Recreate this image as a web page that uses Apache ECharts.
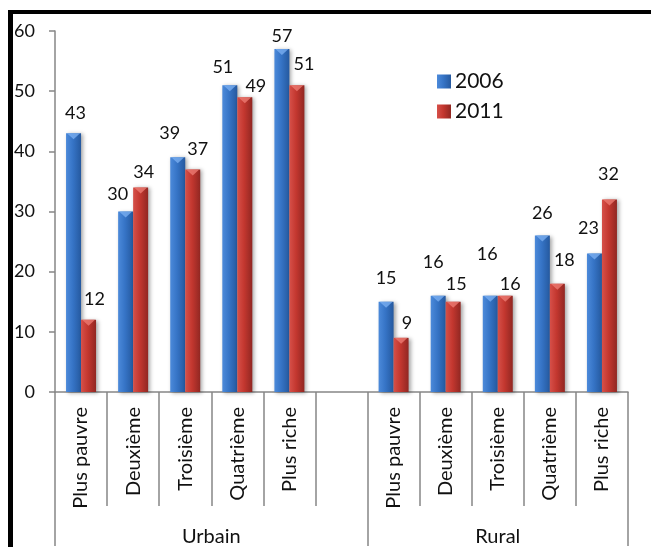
<!DOCTYPE html>
<html>
<head>
<meta charset="utf-8">
<script src="https://cdn.jsdelivr.net/npm/echarts@6/dist/echarts.min.js"></script>
<style>
  html, body { margin: 0; padding: 0; background: #fff; }
  #frame { position: absolute; left: 8px; top: 10px; width: 650px; height: 540px;
           border-top: 4px solid #000; border-left: 5px solid #000; box-sizing: border-box; }
  #chart { position: absolute; left: 0; top: 0; width: 651px; height: 547px; }
</style>
</head>
<body>
<div id="frame"></div>
<div id="chart"></div>
<script>
// Quintile categories, with an empty slot closing the urban group
const categories = ['Plus pauvre', 'Deuxième', 'Troisième', 'Quatrième', 'Plus riche', '',
                    'Plus pauvre', 'Deuxième', 'Troisième', 'Quatrième', 'Plus riche'];
const groups = ['Urbain', 'Urbain', 'Urbain', 'Urbain', 'Urbain', 'Urbain',
                'Rural', 'Rural', 'Rural', 'Rural', 'Rural'];
const values2006 = [43, 30, 39, 51, 57, null, 15, 16, 16, 26, 23];
const values2011 = [12, 34, 37, 49, 51, null, 9, 15, 16, 18, 32];
const yTicks = [0, 10, 20, 30, 40, 50, 60];

// Hand-placed label nudges: [horizontal shift, distance of label centre above bar top]
const nudge2006 = [[2, 20], [-8, 17], [-8, 24], [-7, 18], [0, 13], null,
                   [0, 24], [-5, 34], [-3, 42], [0, 22], [-6, 25]];
const nudge2011 = [[6, 21], [3, 15], [5, 20], [11, 11], [7, 21], null,
                   [6, 15], [3, 18], [5, 12], [7, 24], [-1, 25]];

const FONT = 'Lato';
const AXIS_GREY = '#868686';
const BAR_W = 15;

function grad(c0, c1, c2) {
  return new echarts.graphic.LinearGradient(0, 0, 1, 0, [
    { offset: 0, color: c0 }, { offset: 0.45, color: c1 }, { offset: 1, color: c2 }
  ]);
}
const blue = grad('#4c8ada', '#3674c6', '#25599f');
const red = grad('#d65049', '#c3372f', '#912722');

function barData(vals, nudges) {
  return vals.map((v, i) => v == null ? null : {
    value: v,
    label: { offset: [nudges[i][0], -nudges[i][1]] }
  });
}

function barSeries(name, vals, nudges, color) {
  return {
    name: name, type: 'bar', data: barData(vals, nudges),
    barWidth: BAR_W, barGap: '0%',
    itemStyle: { color: color, shadowColor: 'rgba(0,0,0,0.35)', shadowBlur: 4, shadowOffsetX: 2, shadowOffsetY: 1 },
    label: {
      show: true, position: 'top', distance: 0, verticalAlign: 'middle',
      fontFamily: FONT, fontSize: 18, color: '#111'
    },
    z: 2
  };
}

// Bevelled cap on top of each bar
function capSeries(name, vals, dx, color) {
  return {
    name: name, type: 'scatter', data: vals,
    symbol: 'triangle', symbolRotate: 180, symbolSize: [13, 6], symbolOffset: [dx, 3],
    itemStyle: { color: color }, silent: true, z: 3
  };
}

const chart = echarts.init(document.getElementById('chart'), null, { renderer: 'canvas' });
chart.setOption({
  animation: false,
  backgroundColor: 'transparent',
  textStyle: { fontFamily: FONT },
  grid: { left: 55, right: 23, top: 31, bottom: 153, containLabel: false },
  legend: {
    data: ['2006', '2011'], orient: 'vertical', left: 432, top: 66,
    itemWidth: 14, itemHeight: 14, itemGap: 9, icon: 'rect',
    textStyle: { fontFamily: FONT, fontSize: 21, color: '#111', padding: [0, 0, 0, -1] }
  },
  xAxis: [{
    type: 'category', data: categories, position: 'bottom',
    axisLine: { show: true, lineStyle: { color: AXIS_GREY, width: 1.5 } },
    axisTick: { show: true, interval: 0, length: 114, lineStyle: { color: AXIS_GREY, width: 1.5 } },
    axisLabel: { interval: 0, rotate: 90, margin: 15, fontFamily: FONT, fontSize: 20, color: '#111' }
  }, {
    type: 'category', data: groups, position: 'bottom', offset: 114,
    axisLine: { show: false },
    axisTick: { show: true, interval: (i) => i === 0 || i === 6, length: 40,
                lineStyle: { color: AXIS_GREY, width: 1.5 } },
    axisLabel: {
      interval: (i) => i === 3 || i === 8, margin: 21, fontFamily: FONT, fontSize: 20, color: '#111',
      formatter: (v, i) => i === 3 ? '{shift|' + v + '}' : v,
      rich: { shift: { fontFamily: FONT, fontSize: 20, color: '#111', padding: [0, 52, 0, 0] } }
    }
  }],
  yAxis: {
    type: 'value', min: yTicks[0], max: yTicks[yTicks.length - 1], interval: 10,
    axisLine: { show: true, lineStyle: { color: AXIS_GREY, width: 1.5 } },
    axisTick: { show: true, length: 6, lineStyle: { color: AXIS_GREY, width: 1.5 } },
    splitLine: { show: false },
    axisLabel: { margin: 20, fontFamily: FONT, fontSize: 18, color: '#111' }
  },
  series: [
    barSeries('2006', values2006, nudge2006, blue),
    barSeries('2011', values2011, nudge2011, red),
    capSeries('cap2006', values2006, -BAR_W / 2, '#79aef0'),
    capSeries('cap2011', values2011, BAR_W / 2, '#ec7a72')
  ]
});
</script>
</body>
</html>
